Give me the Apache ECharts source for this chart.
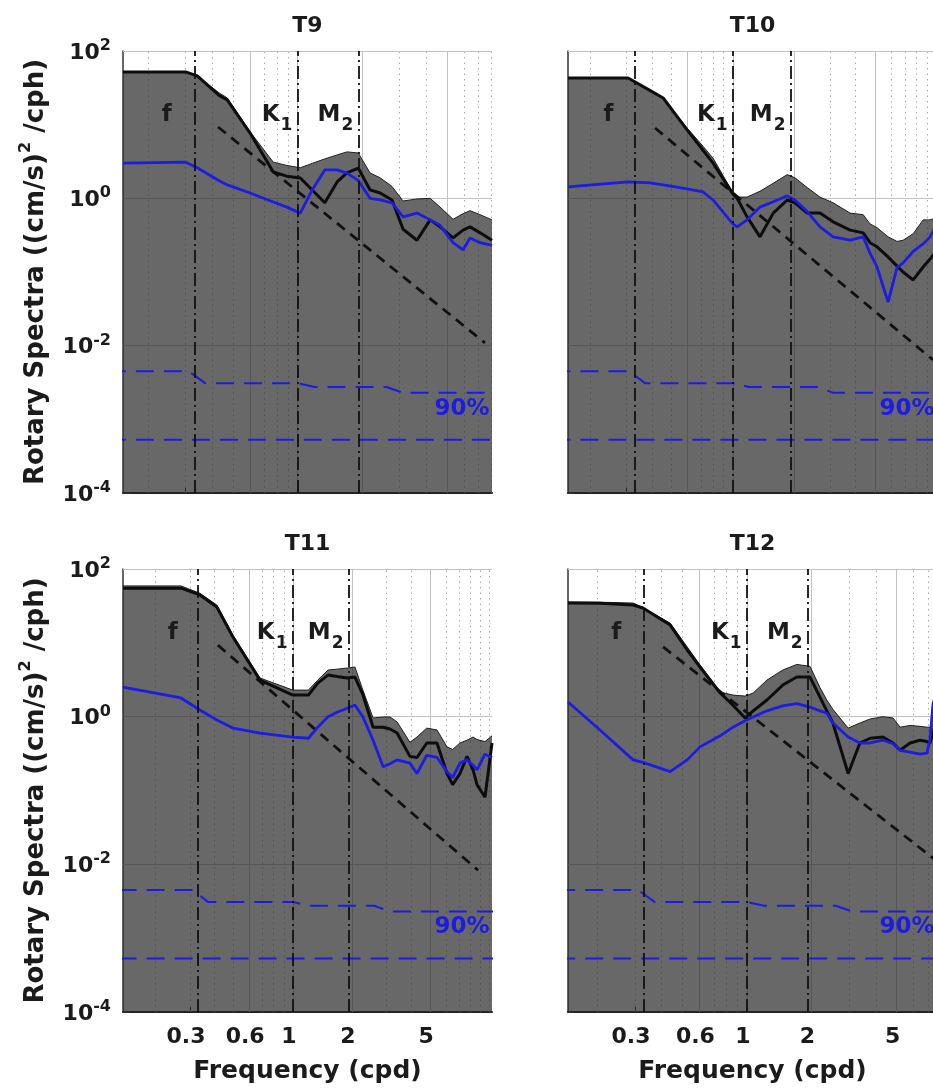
<!DOCTYPE html>
<html>
<head>
<meta charset="utf-8">
<title>Rotary spectra T9 - T12</title>
<script src="https://cdn.jsdelivr.net/npm/echarts@6.0.0/dist/echarts.min.js"></script>
<style>
  html, body { margin: 0; padding: 0; background: #fff; }
  #chart { width: 933px; height: 1091px; }
</style>
</head>
<body>
<div id="chart"></div>
<script type="text/javascript">
// rotary spectra of the four moorings, log-log, f / K1 / M2 marked
// values: freq in cpd, spectra in (cm/s)^2/cph

var freqT9 = [0.153, 0.30, 0.34, 0.43, 0.47, 0.60, 0.77, 0.89, 1.03, 1.17, 1.34, 1.53, 1.70, 1.92, 2.18, 2.43, 2.76, 3.11, 3.61, 4.16, 4.63, 5.32, 5.93, 6.39, 7.12, 8.09];
var cwT9 = [52, 52, 46, 25, 21.6, 7.7, 2.28, 2.0, 1.89, 1.30, 0.87, 1.67, 2.21, 2.58, 1.30, 1.18, 0.95, 0.38, 0.27, 0.51, 0.41, 0.29, 0.37, 0.41, 0.34, 0.27];
var ccwT9 = [3.0, 3.1, 2.6, 1.73, 1.52, 1.18, 0.89, 0.76, 0.63, 1.30, 2.43, 2.43, 2.2, 1.75, 1.0, 0.95, 0.87, 0.56, 0.63, 0.51, 0.43, 0.25, 0.2, 0.29, 0.25, 0.23];
var bandT9 = [52, 52, 46, 27, 23, 8.0, 3.1, 2.8, 2.6, 2.98, 3.43, 3.88, 4.27, 4.13, 2.21, 1.9, 1.45, 0.92, 0.98, 1.0, 0.76, 0.52, 0.62, 0.68, 0.60, 0.51];
var refFreqT9 = [0.425, 7.5];
var refValT9 = [9.3, 0.0109];

var freqT10 = [0.155, 0.306, 0.393, 0.455, 0.596, 0.714, 0.80, 1.0, 1.05, 1.175, 1.36, 1.58, 1.85, 2.02, 2.32, 2.68, 3.11, 3.77, 4.37, 4.72, 5.11, 5.79, 6.41, 6.86, 7.69, 8.61, 9.31, 10.07];
var cwT10 = [43, 43, 29, 23, 8.5, 4.5, 3.0, 1.15, 1.0, 0.56, 0.30, 0.63, 0.95, 0.87, 0.63, 0.63, 0.48, 0.37, 0.34, 0.25, 0.22, 0.16, 0.12, 0.10, 0.078, 0.117, 0.15, 0.2];
var ccwT10 = [1.43, 1.67, 1.62, 1.52, 1.34, 1.22, 0.95, 0.45, 0.41, 0.51, 0.76, 0.9, 1.08, 0.95, 0.66, 0.41, 0.30, 0.27, 0.3, 0.18, 0.117, 0.039, 0.115, 0.133, 0.19, 0.24, 0.30, 0.45];
var bandT10 = [43, 43, 29, 23, 9.0, 5.1, 3.5, 1.2, 1.04, 1.04, 1.25, 1.6, 2.1, 1.9, 1.4, 1.04, 0.87, 0.63, 0.6, 0.45, 0.40, 0.30, 0.26, 0.27, 0.33, 0.51, 0.51, 0.55];
var refFreqT10 = [0.415, 9.63];
var refValT10 = [9.0, 0.0064];

var freqT11 = [0.137, 0.27, 0.337, 0.411, 0.496, 0.681, 1.0, 1.2, 1.34, 1.51, 1.68, 1.89, 2.07, 2.27, 2.56, 2.88, 3.12, 3.39, 3.94, 4.28, 4.8, 5.41, 6.08, 6.5, 7.08, 7.69, 8.25, 8.64, 9.49, 10.3];
var cwT11 = [55, 55, 44.5, 30.5, 12, 3.13, 1.96, 1.96, 2.85, 3.66, 3.5, 3.34, 3.44, 2.0, 0.72, 0.72, 0.68, 0.60, 0.29, 0.28, 0.44, 0.44, 0.17, 0.12, 0.17, 0.29, 0.19, 0.12, 0.081, 0.44];
var ccwT11 = [2.52, 1.79, 1.23, 0.90, 0.70, 0.60, 0.53, 0.51, 0.72, 1.0, 1.15, 1.3, 1.44, 1.0, 0.48, 0.21, 0.23, 0.26, 0.235, 0.17, 0.30, 0.28, 0.18, 0.15, 0.235, 0.26, 0.22, 0.19, 0.31, 0.28];
var bandT11 = [59, 59, 47, 32.5, 12.8, 3.34, 2.29, 2.29, 3.13, 4.28, 4.4, 4.56, 4.7, 2.3, 0.96, 0.99, 0.99, 0.85, 0.45, 0.53, 0.70, 0.66, 0.39, 0.36, 0.44, 0.48, 0.53, 0.49, 0.46, 0.55];
var refFreqT11 = [0.416, 8.75];
var refValT11 = [9.3, 0.0083];

var freqT12 = [0.146, 0.206, 0.294, 0.327, 0.438, 0.526, 0.604, 0.75, 0.861, 0.98, 1.07, 1.24, 1.47, 1.71, 1.97, 2.19, 2.36, 2.52, 2.97, 3.37, 3.76, 4.32, 4.81, 5.19, 5.78, 6.43, 6.93, 7.16, 7.40, 7.72];
var cwT12 = [34.6, 34.3, 32.5, 29.6, 17.4, 8.0, 4.7, 2.09, 1.43, 0.96, 1.2, 1.68, 2.68, 3.44, 3.44, 1.85, 1.2, 0.82, 0.17, 0.44, 0.51, 0.53, 0.44, 0.35, 0.44, 0.48, 0.46, 0.44, 0.6, 1.0];
var ccwT12 = [1.58, 0.66, 0.26, 0.24, 0.18, 0.26, 0.39, 0.55, 0.72, 0.88, 0.99, 1.2, 1.4, 1.5, 1.35, 1.2, 1.12, 0.82, 0.53, 0.44, 0.44, 0.48, 0.43, 0.35, 0.33, 0.31, 0.32, 0.5, 1.5, 2.2];
var bandT12 = [35.7, 35.5, 34.6, 30, 18.5, 8.8, 5.0, 2.15, 1.96, 1.9, 2.09, 3.13, 4.28, 5.1, 4.8, 2.5, 1.68, 1.26, 0.70, 0.82, 0.93, 1.0, 0.96, 0.72, 0.76, 0.74, 0.72, 0.72, 0.8, 1.0];
var refFreqT12 = [0.406, 7.72];
var refValT12 = [8.8, 0.011];

// 90% confidence level (same for all four moorings)
var ciFreq = [0.13, 0.31, 0.37, 1.0, 1.2, 2.6, 3.1, 11];
var ciUpper = [4.5e-3, 4.5e-3, 3.1e-3, 3.1e-3, 2.75e-3, 2.75e-3, 2.3e-3, 2.3e-3];
var ciLowFreq = [0.13, 11];
var ciLower = [5.3e-4, 5.3e-4];

// f (local inertial), K1, M2 in cpd
var tidalFreq = [0.333, 1.0027, 1.9323];

var names = ['T9', 'T10', 'T11', 'T12'];
var xTicks = [0.3, 0.6, 1, 2, 5];
var yTicks = [1e-4, 1e-2, 1, 1e2];
var xMajorGrid = [0.6, 1, 2, 5];
var xMinorGrid = [0.2, 0.3, 0.4, 0.5, 0.7, 0.8, 0.9, 3, 4, 6, 7, 8, 9, 10];
var yMajorGrid = [1e-2, 1, 1e2];

var FONT = '"DejaVu Sans", "Liberation Sans", sans-serif';
var INK = '#1b1b1b';
var BLUE = '#1c1ce2';
var PANEL_W = 369;

var layout = [
  { left: 123, top: 51, height: 442 },
  { left: 568, top: 51, height: 442 },
  { left: 123, top: 569, height: 443 },
  { left: 568, top: 569, height: 443 }
];

var spectra = [
  { freq: freqT9, cw: cwT9, ccw: ccwT9, band: bandT9, refF: refFreqT9, refV: refValT9 },
  { freq: freqT10, cw: cwT10, ccw: ccwT10, band: bandT10, refF: refFreqT10, refV: refValT10 },
  { freq: freqT11, cw: cwT11, ccw: ccwT11, band: bandT11, refF: refFreqT11, refV: refValT11 },
  { freq: freqT12, cw: cwT12, ccw: ccwT12, band: bandT12, refF: refFreqT12, refV: refValT12 }
];

function pairs(xs, ys) {
  return xs.map(function (x, k) { return [x, ys[k]]; });
}

function gridLines(xmin, xmax) {
  var d = [];
  xMajorGrid.forEach(function (v) {
    if (v > xmin && v < xmax) d.push({ xAxis: v, lineStyle: { type: 'solid', color: '#c2c2c2', width: 1 } });
  });
  xMinorGrid.forEach(function (v) {
    if (v > xmin && v < xmax) d.push({ xAxis: v, lineStyle: { type: [1.5, 4], color: '#a8a8a8', width: 1 } });
  });
  yMajorGrid.forEach(function (v) {
    d.push({ yAxis: v, lineStyle: { type: 'solid', color: '#c2c2c2', width: 1 } });
  });
  return d;
}

var subRich = {
  a: { fontFamily: FONT, fontWeight: 'bold', fontSize: 23, color: INK, verticalAlign: 'top' },
  b: { fontFamily: FONT, fontWeight: 'bold', fontSize: 17, color: INK, verticalAlign: 'bottom', padding: [14, 0, 0, 1] }
};

var grids = [], xAxes = [], yAxes = [], series = [], graphics = [];

layout.forEach(function (box, i) {
  var s = spectra[i];
  var xmin = s.freq[0], xmax = s.freq[s.freq.length - 1];
  var bottomRow = i >= 2;
  var leftCol = i % 2 === 0;

  grids.push({
    left: box.left, top: box.top, width: PANEL_W, height: box.height,
    containLabel: false, outerBoundsMode: 'none'
  });

  xAxes.push({
    type: 'log', logBase: 10, gridIndex: i, min: xmin, max: xmax,
    axisLine: { show: true, onZero: false, lineStyle: { color: '#222', width: 2 } },
    axisTick: { show: true, inside: true, length: 5, customValues: xTicks, lineStyle: { color: '#222' } },
    axisLabel: {
      show: bottomRow, customValues: xTicks, margin: 14,
      formatter: function (v) { return String(Math.round(v * 10) / 10); },
      fontFamily: FONT, fontWeight: 'bold', fontSize: 22, color: INK, padding: [0, 8, 0, 0]
    },
    splitLine: { show: false },
    name: bottomRow ? 'Frequency (cpd)' : '',
    nameLocation: 'middle', nameGap: 47,
    nameTextStyle: { fontFamily: FONT, fontWeight: 'bold', fontSize: 25, color: INK }
  });

  yAxes.push({
    type: 'log', logBase: 10, gridIndex: i, min: 1e-4, max: 1e2,
    axisLine: { show: true, lineStyle: { color: '#333', width: 1.5 } },
    axisTick: { show: true, inside: true, length: 6, customValues: yTicks, lineStyle: { color: '#333' } },
    axisLabel: {
      show: leftCol, customValues: yTicks, margin: 12,
      formatter: function (v) { return '{b|10}{s|' + Math.round(Math.log10(v)) + '}'; },
      rich: {
        b: { fontFamily: FONT, fontWeight: 'bold', fontSize: 22, color: INK, verticalAlign: 'bottom', padding: [4, 0, 0, 0] },
        s: { fontFamily: FONT, fontWeight: 'bold', fontSize: 16, color: INK, verticalAlign: 'top' }
      }
    },
    splitLine: { show: false },
    name: leftCol ? '{a|Rotary Spectra ((cm/s)}{s|2}{a| /cph)}' : '',
    nameLocation: 'middle', nameGap: 74,
    nameTextStyle: {
      fontFamily: FONT, fontWeight: 'bold', fontSize: 25, color: INK,
      rich: {
        a: { fontFamily: FONT, fontWeight: 'bold', fontSize: 26, color: INK, verticalAlign: 'bottom', padding: [5, 0, 0, 0] },
        s: { fontFamily: FONT, fontWeight: 'bold', fontSize: 16, color: INK, verticalAlign: 'top' }
      }
    }
  });

  // shaded band (fills to the bottom), with the grid drawn underneath it
  series.push({
    type: 'line', xAxisIndex: i, yAxisIndex: i, z: 2,
    data: pairs(s.freq, s.band),
    showSymbol: false, symbol: 'none', silent: true,
    lineStyle: { color: '#202020', width: 1 },
    areaStyle: { color: 'rgb(40,40,40)', opacity: 0.7, origin: 'start' },
    markLine: {
      z: 1, silent: true, symbol: ['none', 'none'], label: { show: false }, animation: false,
      data: gridLines(xmin, xmax)
    }
  });

  // 90% confidence lines
  series.push({
    type: 'line', xAxisIndex: i, yAxisIndex: i, z: 3,
    data: pairs(ciFreq, ciUpper),
    showSymbol: false, symbol: 'none', silent: true,
    lineStyle: { color: BLUE, width: 2, type: [18, 10] }
  });
  series.push({
    type: 'line', xAxisIndex: i, yAxisIndex: i, z: 3,
    data: pairs(ciLowFreq, ciLower),
    showSymbol: false, symbol: 'none', silent: true,
    lineStyle: { color: BLUE, width: 2, type: [18, 10] },
    markPoint: {
      z: 8, silent: true, animation: false, symbol: 'circle', symbolSize: 1,
      itemStyle: { color: 'rgba(0,0,0,0)' },
      data: [{
        coord: [xmax, 1.4e-3],
        label: { show: true, position: 'left', distance: 2, formatter: '90%',
          fontFamily: FONT, fontWeight: 'bold', fontSize: 23, color: BLUE }
      }]
    }
  });

  // reference slope, plus the f / K1 / M2 lines
  series.push({
    type: 'line', xAxisIndex: i, yAxisIndex: i, z: 4,
    data: pairs(s.refF, s.refV),
    showSymbol: false, symbol: 'none', silent: true,
    lineStyle: { color: '#111', width: 2.8, type: [10, 7] },
    markLine: {
      z: 7, silent: true, symbol: ['none', 'none'], label: { show: false }, animation: false,
      lineStyle: { color: '#111', width: 1.8, type: [13, 4, 2, 4] },
      data: tidalFreq.map(function (v) { return { xAxis: v }; })
    }
  });

  series.push({
    type: 'line', xAxisIndex: i, yAxisIndex: i, z: 5,
    data: pairs(s.freq, s.cw),
    showSymbol: false, symbol: 'none', silent: true,
    lineStyle: { color: '#0d0d0d', width: 3 }
  });

  series.push({
    type: 'line', xAxisIndex: i, yAxisIndex: i, z: 6,
    data: pairs(s.freq, s.ccw),
    showSymbol: false, symbol: 'none', silent: true,
    lineStyle: { color: BLUE, width: 2.8 },
    markPoint: {
      z: 9, silent: true, animation: false, symbol: 'circle', symbolSize: 1,
      itemStyle: { color: 'rgba(0,0,0,0)' },
      data: [
        { coord: [0.245, 13.5], label: { show: true, position: 'inside', formatter: 'f',
            fontFamily: FONT, fontWeight: 'bold', fontSize: 23, color: INK } },
        { coord: [tidalFreq[1], 12], label: { show: true, position: 'left', distance: 5,
            formatter: '{a|K}{b|1}', rich: subRich } },
        { coord: [tidalFreq[2], 12], label: { show: true, position: 'left', distance: 5,
            formatter: '{a|M}{b|2}', rich: subRich } }
      ]
    }
  });

  graphics.push({
    type: 'text', x: box.left + PANEL_W / 2, y: box.top - 25, silent: true,
    style: {
      text: names[i], font: 'bold 22px ' + FONT, fill: INK,
      align: 'center', verticalAlign: 'middle', textAlign: 'center', textVerticalAlign: 'middle'
    }
  });
});

var option = {
  animation: false,
  backgroundColor: '#fff',
  textStyle: { fontFamily: FONT },
  grid: grids,
  xAxis: xAxes,
  yAxis: yAxes,
  series: series,
  graphic: graphics
};

var chart = echarts.init(document.getElementById('chart'));
chart.setOption(option);
</script>
</body>
</html>
